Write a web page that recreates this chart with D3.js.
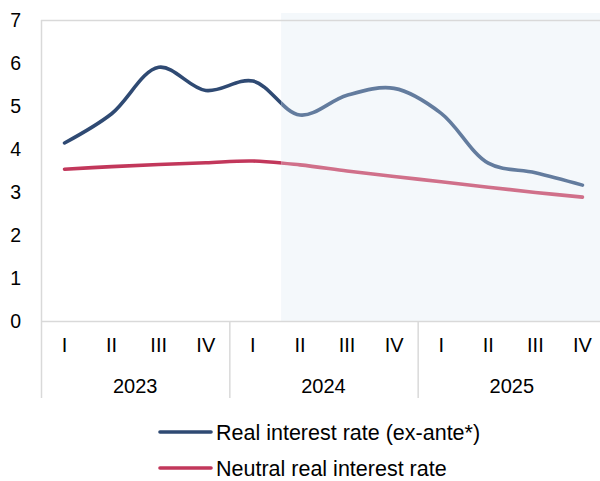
<!DOCTYPE html>
<html>
<head>
<meta charset="utf-8">
<script src="https://cdn.jsdelivr.net/npm/d3@7/dist/d3.min.js"></script>
<style>
  html, body { margin: 0; padding: 0; background: #fff; }
  svg { display: block; font-family: "Liberation Sans", Arial, sans-serif; }
</style>
</head>
<body>
<svg id="chart" width="600" height="481"></svg>
<script>
// Quarterly periods, 2023–2025
const years = ["2023", "2024", "2025"];
const quarters = ["I", "II", "III", "IV"];
const periods = years.flatMap(y => quarters.map(q => y + "-" + q));

// Real interest rate (ex-ante*), %
const realRate = [4.14, 4.82, 5.90, 5.36, 5.58, 4.79, 5.25, 5.41, 4.83, 3.67, 3.45, 3.16];
// Neutral real interest rate, %
const neutralRate = [3.53, 3.59, 3.64, 3.68, 3.72, 3.63, 3.49, 3.36, 3.24, 3.11, 2.99, 2.88];

// Index of the last observed quarter; later quarters are projections
const lastActual = 4;

const yTicks = [0, 1, 2, 3, 4, 5, 6, 7];

const series = [
  { name: "Real interest rate (ex-ante*)", values: realRate, color: "#2f4a73", light: "#637c9e" },
  { name: "Neutral real interest rate", values: neutralRate, color: "#c2375b", light: "#d0708a" }
];

const svg = d3.select("#chart");
const plotL = 41, plotR = 606, plotT = 20, plotB = 321;

const x = d3.scaleBand().domain(periods).range([plotL, plotR]).paddingInner(0).paddingOuter(0);
const y = d3.scaleLinear().domain([0, 7]).range([plotB, plotT]);
const cx = p => x(p) + x.bandwidth() / 2;

// Projection area shading
const shadeStart = cx(periods[lastActual]) + x.bandwidth() * 0.6;
svg.append("rect")
  .attr("x", shadeStart).attr("y", 13)
  .attr("width", 600 - shadeStart).attr("height", plotB - 13)
  .attr("fill", "#f4f8fb");

const grid = "#d9d9d9";
// Plot frame: top border, left axis, baseline
svg.append("line").attr("x1", plotL).attr("x2", 600).attr("y1", plotT + 0.5).attr("y2", plotT + 0.5)
  .attr("stroke", grid).attr("stroke-width", 1.5);
svg.append("line").attr("x1", plotL).attr("x2", 600).attr("y1", plotB + 0.5).attr("y2", plotB + 0.5)
  .attr("stroke", grid).attr("stroke-width", 1.5);
svg.append("line").attr("x1", plotL + 0.5).attr("x2", plotL + 0.5).attr("y1", plotT).attr("y2", 398)
  .attr("stroke", grid).attr("stroke-width", 1.5);

// Year separators in the category axis
years.forEach((yr, i) => {
  if (i === 0) return;
  const xs = x(yr + "-I");
  svg.append("line").attr("x1", xs + 0.5).attr("x2", xs + 0.5).attr("y1", plotB).attr("y2", 398)
    .attr("stroke", grid).attr("stroke-width", 1.5);
});

// Y axis labels
svg.append("g").selectAll("text").data(yTicks).join("text")
  .attr("x", 21).attr("y", d => y(d) + 7)
  .attr("text-anchor", "end")
  .attr("font-size", 19.5).attr("fill", "#000")
  .text(d => d);

// Quarter labels
svg.append("g").selectAll("text").data(periods).join("text")
  .attr("x", d => cx(d)).attr("y", 352)
  .attr("text-anchor", "middle")
  .attr("font-size", 20).attr("fill", "#000")
  .text(d => d.split("-")[1]);

// Year labels
svg.append("g").selectAll("text").data(years).join("text")
  .attr("x", yr => (x(yr + "-I") + x(yr + "-IV") + x.bandwidth()) / 2).attr("y", 393)
  .attr("text-anchor", "middle")
  .attr("font-size", 20).attr("fill", "#000")
  .text(d => d);

// Lines: observed segment in full colour, projection in a lighter tone
const line = d3.line()
  .x(d => cx(d.p)).y(d => y(d.v))
  .curve(d3.curveCatmullRom.alpha(0.5));

const clipA = svg.append("clipPath").attr("id", "clipActual");
clipA.append("rect").attr("x", 0).attr("y", 0).attr("width", shadeStart).attr("height", 481);
const clipF = svg.append("clipPath").attr("id", "clipForecast");
clipF.append("rect").attr("x", shadeStart).attr("y", 0).attr("width", 600 - shadeStart).attr("height", 481);

series.forEach(s => {
  const pts = s.values.map((v, i) => ({ p: periods[i], v }));
  svg.append("path").datum(pts)
    .attr("d", line).attr("fill", "none")
    .attr("stroke", s.color).attr("stroke-width", 3.6)
    .attr("stroke-linecap", "round").attr("stroke-linejoin", "round")
    .attr("clip-path", "url(#clipActual)");
  svg.append("path").datum(pts)
    .attr("d", line).attr("fill", "none")
    .attr("stroke", s.light).attr("stroke-width", 3.6)
    .attr("stroke-linecap", "round").attr("stroke-linejoin", "round")
    .attr("clip-path", "url(#clipForecast)");
});

// Legend
const legend = svg.append("g");
series.forEach((s, i) => {
  const ly = 432 + i * 36;
  legend.append("line").attr("x1", 160).attr("x2", 211).attr("y1", ly).attr("y2", ly)
    .attr("stroke", s.color).attr("stroke-width", 3.6).attr("stroke-linecap", "round");
  legend.append("text").attr("x", 216).attr("y", ly + 8)
    .attr("font-size", 21.5).attr("fill", "#000").text(s.name);
});
</script>
</body>
</html>
